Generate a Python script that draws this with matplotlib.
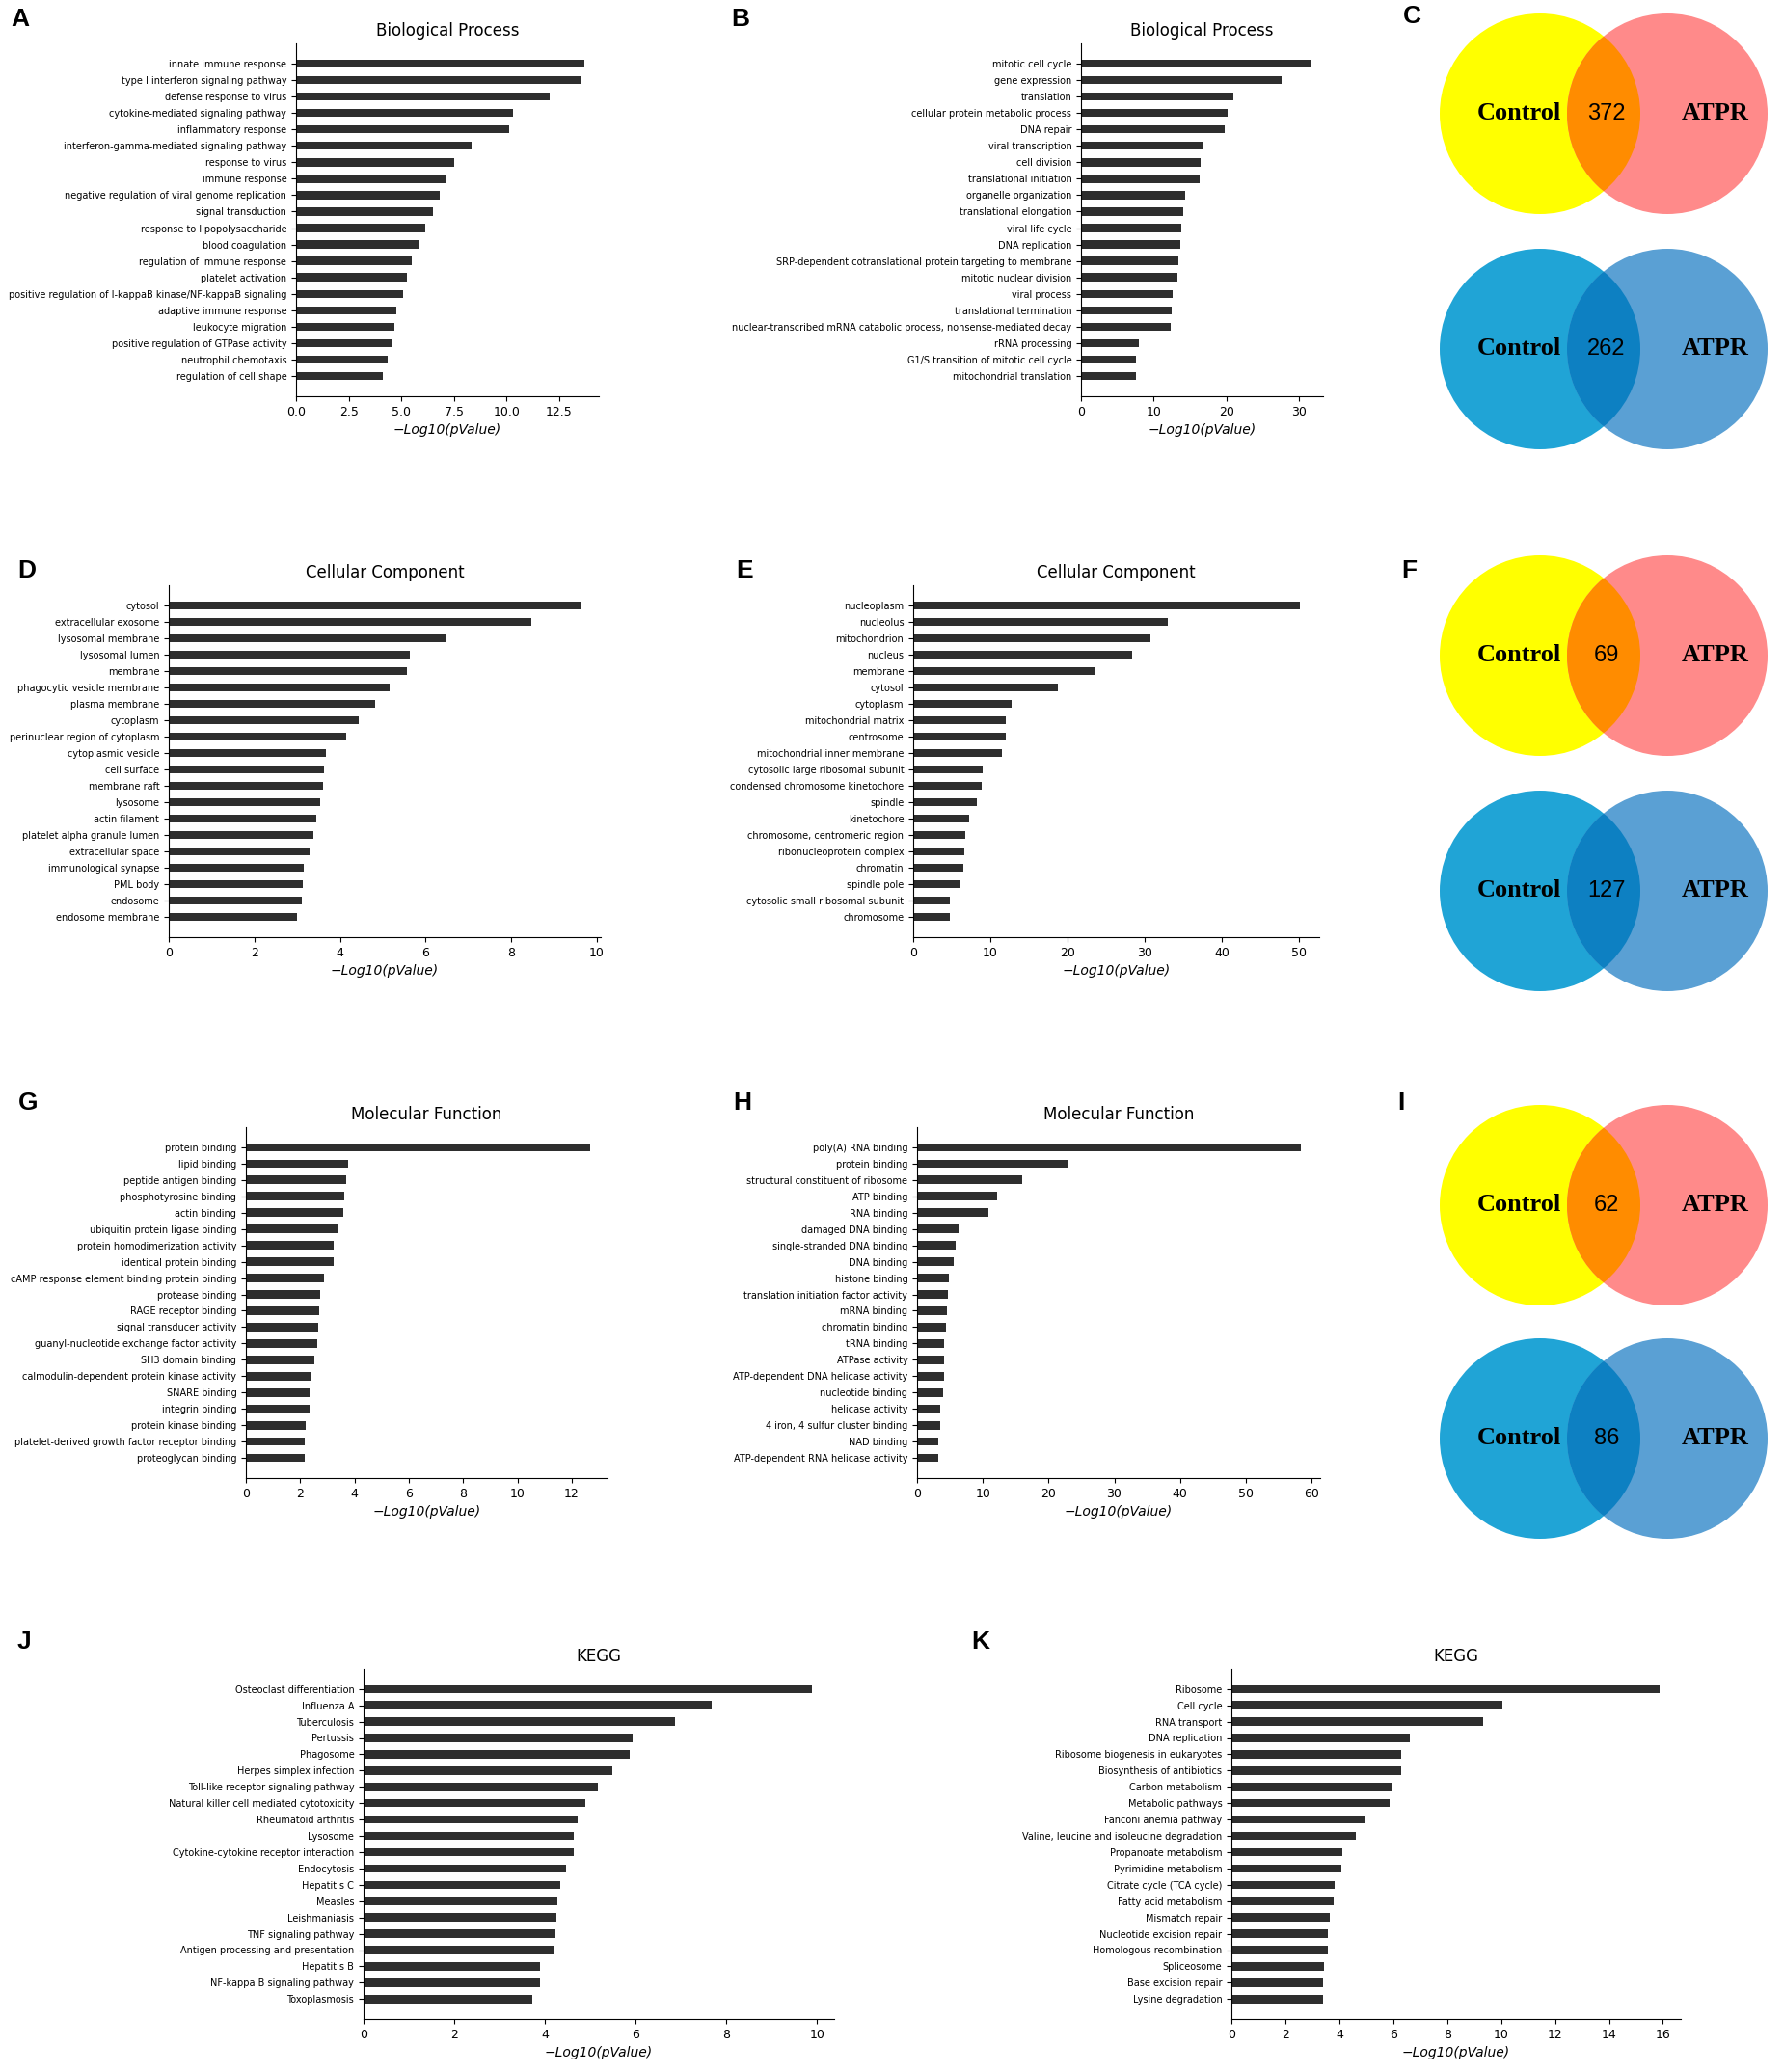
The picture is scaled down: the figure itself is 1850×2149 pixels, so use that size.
import matplotlib.pyplot as plt
from matplotlib.patches import Circle
from matplotlib.ticker import MultipleLocator

# figure size in pixels
W, H = 1850, 2149

# ---- data ----
a_terms = ["innate immune response", "type I interferon signaling pathway", "defense response to virus",
           "cytokine-mediated signaling pathway", "inflammatory response",
           "interferon-gamma-mediated signaling pathway", "response to virus", "immune response",
           "negative regulation of viral genome replication", "signal transduction",
           "response to lipopolysaccharide", "blood coagulation", "regulation of immune response",
           "platelet activation", "positive regulation of I-kappaB kinase/NF-kappaB signaling",
           "adaptive immune response", "leukocyte migration", "positive regulation of GTPase activity",
           "neutrophil chemotaxis", "regulation of cell shape"]
a_vals = [13.70, 13.55, 12.04, 10.33, 10.12, 8.33, 7.50, 7.08, 6.83, 6.49,
          6.13, 5.86, 5.48, 5.25, 5.10, 4.76, 4.68, 4.59, 4.36, 4.13]

b_terms = ["mitotic cell cycle", "gene expression", "translation", "cellular protein metabolic process",
           "DNA repair", "viral transcription", "cell division", "translational initiation",
           "organelle organization", "translational elongation", "viral life cycle", "DNA replication",
           "SRP-dependent cotranslational protein targeting to membrane", "mitotic nuclear division",
           "viral process", "translational termination",
           "nuclear-transcribed mRNA catabolic process, nonsense-mediated decay", "rRNA processing",
           "G1/S transition of mitotic cell cycle", "mitochondrial translation"]
b_vals = [31.7, 27.6, 20.9, 20.2, 19.8, 16.8, 16.4, 16.3, 14.3, 14.1,
          13.8, 13.6, 13.4, 13.3, 12.6, 12.5, 12.3, 8.0, 7.6, 7.6]

d_terms = ["cytosol", "extracellular exosome", "lysosomal membrane", "lysosomal lumen", "membrane",
           "phagocytic vesicle membrane", "plasma membrane", "cytoplasm", "perinuclear region of cytoplasm",
           "cytoplasmic vesicle", "cell surface", "membrane raft", "lysosome", "actin filament",
           "platelet alpha granule lumen", "extracellular space", "immunological synapse", "PML body",
           "endosome", "endosome membrane"]
d_vals = [9.61, 8.47, 6.49, 5.62, 5.57, 5.15, 4.83, 4.44, 4.14, 3.67,
          3.63, 3.61, 3.54, 3.44, 3.38, 3.29, 3.15, 3.12, 3.11, 2.99]

e_terms = ["nucleoplasm", "nucleolus", "mitochondrion", "nucleus", "membrane", "cytosol", "cytoplasm",
           "mitochondrial matrix", "centrosome", "mitochondrial inner membrane",
           "cytosolic large ribosomal subunit", "condensed chromosome kinetochore", "spindle",
           "kinetochore", "chromosome, centromeric region", "ribonucleoprotein complex", "chromatin",
           "spindle pole", "cytosolic small ribosomal subunit", "chromosome"]
e_vals = [50.1, 33.0, 30.7, 28.4, 23.5, 18.7, 12.7, 12.0, 11.96, 11.5,
          8.95, 8.9, 8.23, 7.23, 6.73, 6.62, 6.51, 6.12, 4.78, 4.78]

g_terms = ["protein binding", "lipid binding", "peptide antigen binding", "phosphotyrosine binding",
           "actin binding", "ubiquitin protein ligase binding", "protein homodimerization activity",
           "identical protein binding", "cAMP response element binding protein binding",
           "protease binding", "RAGE receptor binding", "signal transducer activity",
           "guanyl-nucleotide exchange factor activity", "SH3 domain binding",
           "calmodulin-dependent protein kinase activity", "SNARE binding", "integrin binding",
           "protein kinase binding", "platelet-derived growth factor receptor binding",
           "proteoglycan binding"]
g_vals = [12.68, 3.76, 3.68, 3.61, 3.58, 3.38, 3.23, 3.22, 2.87, 2.74,
          2.71, 2.65, 2.63, 2.51, 2.38, 2.35, 2.35, 2.21, 2.15, 2.15]

h_terms = ["poly(A) RNA binding", "protein binding", "structural constituent of ribosome", "ATP binding",
           "RNA binding", "damaged DNA binding", "single-stranded DNA binding", "DNA binding",
           "histone binding", "translation initiation factor activity", "mRNA binding",
           "chromatin binding", "tRNA binding", "ATPase activity", "ATP-dependent DNA helicase activity",
           "nucleotide binding", "helicase activity", "4 iron, 4 sulfur cluster binding", "NAD binding",
           "ATP-dependent RNA helicase activity"]
h_vals = [58.4, 23.1, 16.0, 12.2, 10.9, 6.26, 5.87, 5.61, 4.83, 4.76,
          4.50, 4.44, 4.17, 4.11, 4.04, 3.98, 3.52, 3.46, 3.26, 3.26]

j_terms = ["Osteoclast differentiation", "Influenza A", "Tuberculosis", "Pertussis", "Phagosome",
           "Herpes simplex infection", "Toll-like receptor signaling pathway",
           "Natural killer cell mediated cytotoxicity", "Rheumatoid arthritis", "Lysosome",
           "Cytokine-cytokine receptor interaction", "Endocytosis", "Hepatitis C", "Measles",
           "Leishmaniasis", "TNF signaling pathway", "Antigen processing and presentation",
           "Hepatitis B", "NF-kappa B signaling pathway", "Toxoplasmosis"]
j_vals = [9.88, 7.68, 6.87, 5.93, 5.87, 5.49, 5.16, 4.90, 4.71, 4.64,
          4.64, 4.46, 4.33, 4.27, 4.26, 4.22, 4.21, 3.90, 3.88, 3.72]

k_terms = ["Ribosome", "Cell cycle", "RNA transport", "DNA replication",
           "Ribosome biogenesis in eukaryotes", "Biosynthesis of antibiotics", "Carbon metabolism",
           "Metabolic pathways", "Fanconi anemia pathway", "Valine, leucine and isoleucine degradation",
           "Propanoate metabolism", "Pyrimidine metabolism", "Citrate cycle (TCA cycle)",
           "Fatty acid metabolism", "Mismatch repair", "Nucleotide excision repair",
           "Homologous recombination", "Spliceosome", "Base excision repair", "Lysine degradation"]
k_vals = [15.87, 10.04, 9.35, 6.62, 6.29, 6.29, 5.97, 5.85, 4.95, 4.60,
          4.11, 4.07, 3.81, 3.79, 3.63, 3.56, 3.56, 3.42, 3.40, 3.38]

venn_c = [372, 262]
venn_f = [69, 127]
venn_i = [62, 86]

# ---- layout (pixels: left, top, width, bottom), x tick step ----
bar_panels = [
    ("A", a_terms, a_vals, "Biological Process", (307, 45, 314, 411), (11, 20), 2.5),
    ("B", b_terms, b_vals, "Biological Process", (1121, 45, 251, 411), (758, 20), 10),
    ("D", d_terms, d_vals, "Cellular Component", (175, 607, 448, 972), (18, 592), 2),
    ("E", e_terms, e_vals, "Cellular Component", (947, 607, 421, 972), (763, 592), 10),
    ("G", g_terms, g_vals, "Molecular Function", (255, 1169, 375, 1533), (19, 1144), 2),
    ("H", h_terms, h_vals, "Molecular Function", (951, 1169, 418, 1533), (760, 1144), 10),
    ("J", j_terms, j_vals, "KEGG", (377, 1731, 488, 2094), (18, 1703), 2),
    ("K", k_terms, k_vals, "KEGG", (1277, 1731, 466, 2094), (1007, 1703), 2),
]

fig = plt.figure(figsize=(W / 100, H / 100), dpi=100)

# background axes in pixel coordinates for the venns and panel letters
bg = fig.add_axes([0, 0, 1, 1])
bg.set_xlim(0, W)
bg.set_ylim(H, 0)
bg.axis("off")

for letter, terms, vals, title, (l, t, w, b), (lx, ly), step in bar_panels:
    ax = fig.add_axes([l / W, 1 - b / H, w / W, (b - t) / H])
    ax.barh(range(len(vals)), vals, height=0.5, color="#2e2e2e")
    ax.set_yticks(range(len(terms)))
    ax.set_yticklabels(terms, fontsize=7)
    ax.invert_yaxis()
    ax.xaxis.set_major_locator(MultipleLocator(step))
    ax.tick_params(axis="x", labelsize=9)
    ax.set_xlabel("\u2212Log10(pValue)", fontsize=10, fontstyle="italic")
    ax.set_title(title, fontsize=12)
    for s in ["top", "right"]:
        ax.spines[s].set_visible(False)
    bg.text(lx, ly, letter, fontsize=19, fontweight="bold", family="Liberation Sans",
            ha="left", va="center")

# venn diagrams
r = 104
cx_l, cx_r = 1597, 1729
venn_rows = [("C", venn_c, (118, 362), (1455, 17)),
             ("F", venn_f, (680, 924), (1453, 592)),
             ("I", venn_i, (1250, 1492), (1449, 1144))]
warm = ("#ffff00", "#ff8a8a", "#ff8c00")
cool = ("#20a4d6", "#5aa0d4", "#0d80c2")
for letter, counts, (yt, yb), (lx, ly) in venn_rows:
    for cy, n, cols in [(yt, counts[0], warm), (yb, counts[1], cool)]:
        left = Circle((cx_l, cy), r, color=cols[0], lw=0)
        right = Circle((cx_r, cy), r, color=cols[1], lw=0)
        bg.add_patch(left)
        bg.add_patch(right)
        lens = Circle((cx_l, cy), r, color=cols[2], lw=0)
        bg.add_patch(lens)
        lens.set_clip_path(right)
        bg.text(cx_l - 22, cy, "Control", family="Liberation Serif", fontweight="bold",
                fontsize=19, ha="center", va="center")
        bg.text((cx_l + cx_r) / 2 + 3, cy, str(n), family="Liberation Sans",
                fontsize=17, ha="center", va="center")
        bg.text(cx_r + 50, cy, "ATPR", family="Liberation Serif", fontweight="bold",
                fontsize=19, ha="center", va="center")
    bg.text(lx, ly, letter, fontsize=19, fontweight="bold", family="Liberation Sans",
            ha="left", va="center")

fig.savefig("out.png", dpi=100)
